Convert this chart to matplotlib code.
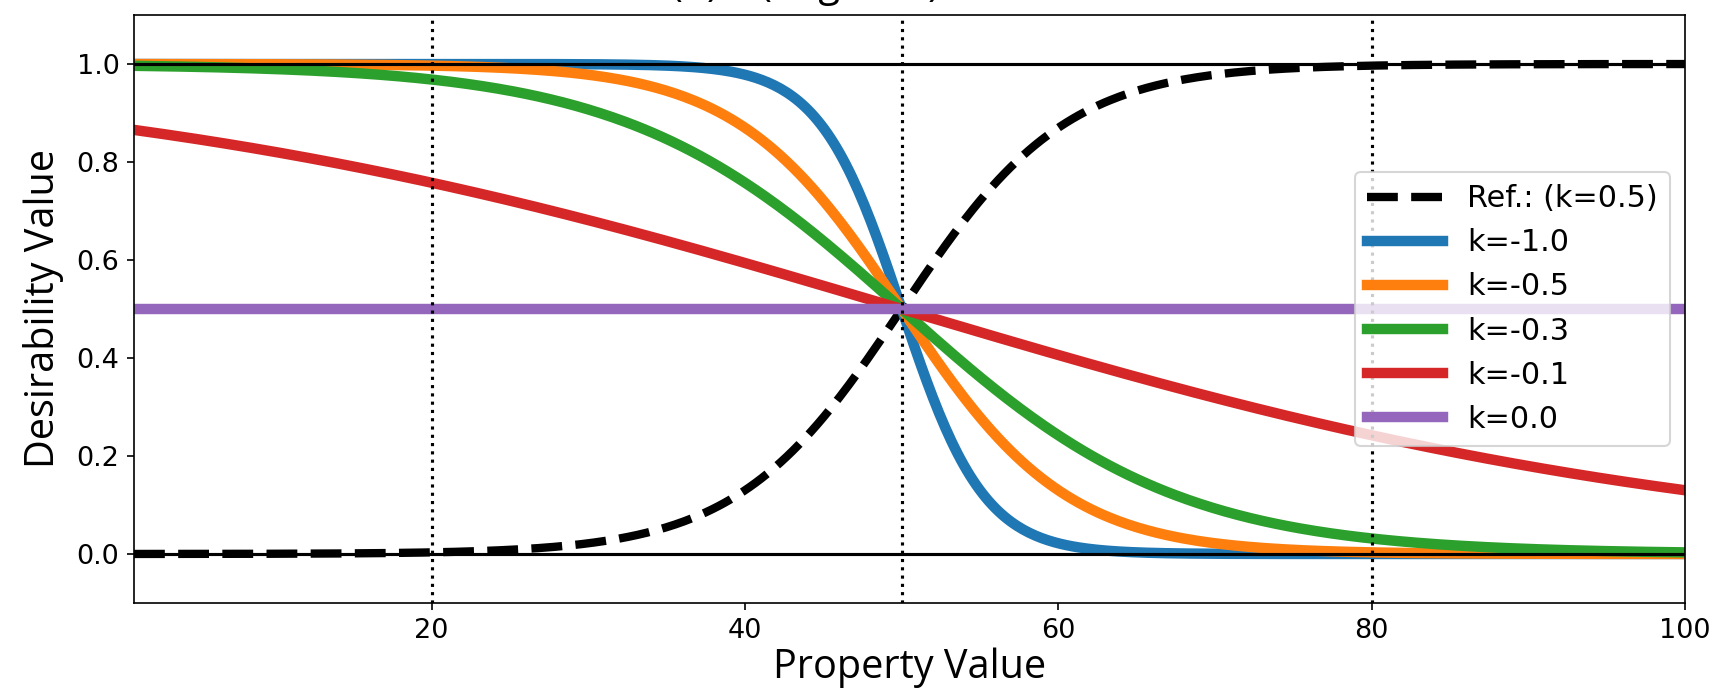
import numpy as np
import matplotlib
matplotlib.use("Agg")
import matplotlib.pyplot as plt

# desirability curves: d(x) = 1 / (1 + exp(-k * s * (x - center)))
center = 50
slope_scale = 0.38   # (curves are flatter than plain k)
ref_k = 0.5
k_values = [-1.0, -0.5, -0.3, -0.1, 0.0]
k_labels = ["k=-1.0", "k=-0.5", "k=-0.3", "k=-0.1", "k=0.0"]
colors = ["#1f77b4", "#ff7f0e", "#2ca02c", "#d62728", "#9467bd"]
guide_x = [20, 50, 80]
x_range = [1, 100]

x = np.linspace(x_range[0], x_range[1], 500)

def desirability(x, k):
    return 1.0 / (1.0 + np.exp(-k * slope_scale * (x - center)))

fig = plt.figure(figsize=(1719 / 150, 692 / 150), dpi=150)
ax = fig.add_axes([134 / 1719, 1 - 603 / 692, (1685 - 134) / 1719, (603 - 15) / 692])

ax.plot(x, desirability(x, ref_k), color="black", ls="--", lw=4, label="Ref.: (k=0.5)")
for k, lab, c in zip(k_values, k_labels, colors):
    ax.plot(x, desirability(x, k), color=c, lw=5, label=lab)

ax.axhline(0, color="black", lw=1.5, zorder=3)
ax.axhline(1, color="black", lw=1.5, zorder=3)
for gx in guide_x:
    ax.axvline(gx, color="black", ls=":", lw=1.5, zorder=3)

ax.set_xlim(x_range)
ax.set_ylim(-0.1, 1.1)
ax.tick_params(labelsize=13)
ax.set_xlabel("Property Value", fontsize=19, family="Open Sans", labelpad=2)
ax.set_ylabel("Desirability Value", fontsize=19, family="Open Sans", labelpad=6)
ax.legend(loc="center right", fontsize=14.5, handlelength=2.5)

# title sits mostly above the saved area, as in the reference
fig.text(805 / 1719, 1 + 4 / 692, "(b) k (negative)", ha="center", va="baseline",
         fontsize=19, family="Open Sans")

fig.savefig("out.png", dpi=150)
